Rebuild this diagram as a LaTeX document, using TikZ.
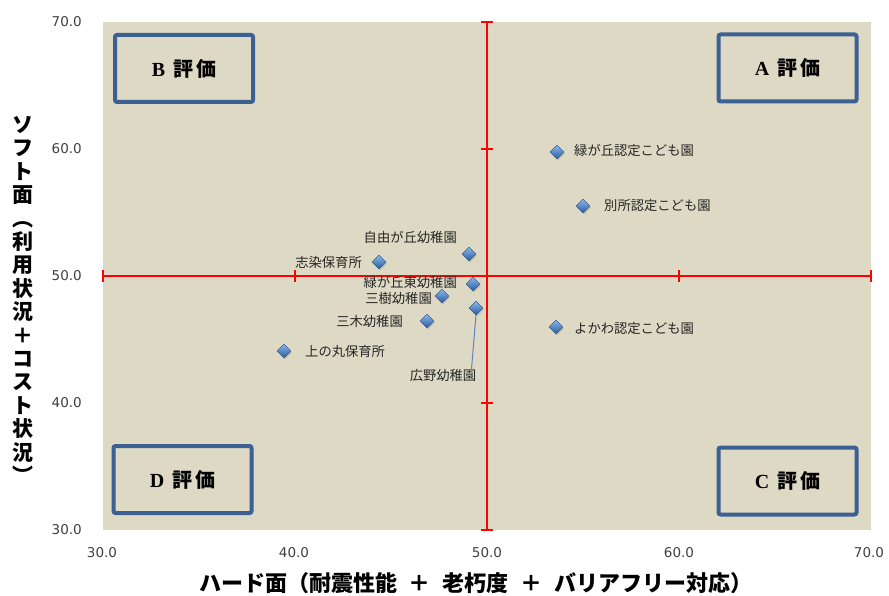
\documentclass[tikz,border=0pt]{standalone}
\usepackage{fontspec}
\setmainfont{Noto Sans CJK JP}
\newfontfamily\tickfont{DejaVu Sans}
\newfontfamily\serifb{Liberation Serif}
\usetikzlibrary{shapes.geometric,shadows}
\definecolor{bg}{HTML}{DDD9C4}
\definecolor{boxblue}{HTML}{3C6091}
\definecolor{axred}{HTML}{FF0000}
\definecolor{ptlight}{HTML}{8AB8EC}
\definecolor{ptdark}{HTML}{2A5C9E}
\definecolor{lbl}{HTML}{262626}
\definecolor{leadc}{HTML}{5B86BF}
\begin{document}
\begin{tikzpicture}[x=1pt,y=-1pt,
  evalbox/.style={draw=boxblue, line width=4pt, rounded corners=2pt, minimum width=138pt, minimum height=67pt, inner sep=0pt, font=\fontsize{20}{22}\selectfont\bfseries},
  ptmark/.style={diamond, inner sep=0pt, minimum size=14pt, draw=ptdark!80!black, line width=0.3pt, top color=ptlight, bottom color=ptdark, drop shadow={shadow xshift=1pt, shadow yshift=-1.5pt, opacity=0.35}},
  lab/.style={font=\fontsize{13.3}{15}\selectfont, text=lbl, inner sep=0pt},
  ticklab/.style={font=\tickfont\fontsize{13.5}{15}\selectfont, text=black!75, inner sep=0pt},
  axline/.style={draw=axred, line width=2.2pt},
  tickline/.style={draw=axred, line width=2pt},
  leader/.style={draw=leadc, line width=1pt},
]
\useasboundingbox (0,0) rectangle (889,596);
\fill[bg] (103,22) rectangle (871,530);

% red cross axes
\coordinate (xl) at (103,276);
\coordinate (xr) at (871,276);
\coordinate (yt) at (487,22);
\coordinate (yb) at (487,530);
\draw[axline] (xl) -- (xr);
\draw[axline] (yt) -- (yb);
\foreach \tx in {103,295,679,871} \draw[tickline] (\tx,270) -- (\tx,282);
\foreach \ty in {22,149,403,530} \draw[tickline] (481,\ty) -- (493,\ty);

% evaluation boxes
\node[evalbox] (boxB) at (184,68.5) {{\serifb B}\hspace{8pt}評\hspace{3pt}価};
\node[evalbox] (boxA) at (787.5,68) {{\serifb A}\hspace{8pt}評\hspace{3pt}価};
\node[evalbox] (boxD) at (182.5,479.5) {{\serifb D}\hspace{8pt}評\hspace{3pt}価};
\node[evalbox] (boxC) at (787.5,481) {{\serifb C}\hspace{8pt}評\hspace{3pt}価};

% tick labels
\node[ticklab, anchor=east] (y70) at (82,22) {70.0};
\node[ticklab, anchor=east] (y60) at (82,149) {60.0};
\node[ticklab, anchor=east] (y50) at (82,276) {50.0};
\node[ticklab, anchor=east] (y40) at (82,403) {40.0};
\node[ticklab, anchor=east] (y30) at (82,530) {30.0};
\node[ticklab] (x30) at (102,553) {30.0};
\node[ticklab] (x40) at (294,553) {40.0};
\node[ticklab] (x50) at (487,553) {50.0};
\node[ticklab] (x60) at (679,553) {60.0};
\node[ticklab] (x70) at (869,553) {70.0};

% axis titles
\node[font=\fontsize{22}{24}\selectfont\bfseries, inner sep=0pt] (xtitle) at (476,583)
  {ハード面（耐震性能\hspace{12pt}＋\hspace{12pt}老朽度\hspace{12pt}＋\hspace{12pt}バリアフリー対応）};
\node[font=\fontsize{21}{23.4}\selectfont\bfseries, align=center, inner sep=0pt] (ytitle) at (23,300)
  {ソ\\フ\\ト\\面\\︵\\利\\用\\状\\況\\＋\\コ\\ス\\ト\\状\\況\\︶};

% data points
\node[ptmark] (p1) at (557,152) {};
\node[ptmark] (p2) at (583,206) {};
\node[ptmark] (p3) at (556,327) {};
\node[ptmark] (p4) at (469,254) {};
\node[ptmark] (p5) at (379,262) {};
\node[ptmark] (p6) at (473,284) {};
\node[ptmark] (p7) at (442,296) {};
\node[ptmark] (p8) at (427,321) {};
\node[ptmark] (p9) at (284,351) {};
\node[ptmark] (p10) at (476,308) {};

% point labels
\node[lab, anchor=west] (l1) at (574,150) {緑が丘認定こども園};
\node[lab, anchor=west] (l2) at (604,205) {別所認定こども園};
\node[lab, anchor=west] (l3) at (574,328) {よかわ認定こども園};
\node[lab, anchor=east] (l4) at (457,237) {自由が丘幼稚園};
\node[lab, anchor=east] (l5) at (362,262) {志染保育所};
\node[lab, anchor=east] (l6) at (457,282) {緑が丘東幼稚園};
\node[lab, anchor=east] (l7) at (432,298) {三樹幼稚園};
\node[lab, anchor=east] (l8) at (403,321) {三木幼稚園};
\node[lab, anchor=west] (l9) at (305,351) {上の丸保育所};
\node[lab] (l10) at (443,375) {広野幼稚園};
\draw[leader] (p10.south) -- ([xshift=-5pt,yshift=-1pt]l10.north east);
\end{tikzpicture}
\end{document}
